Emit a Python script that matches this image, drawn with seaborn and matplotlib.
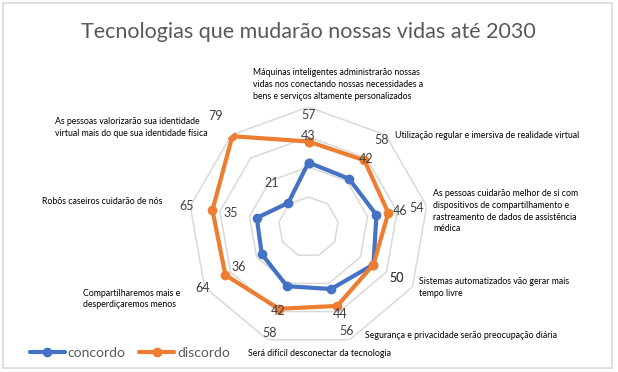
import numpy as np
import pandas as pd
import matplotlib
matplotlib.use("Agg")
import matplotlib.pyplot as plt
import seaborn as sns
from matplotlib.lines import Line2D
from matplotlib.patches import Rectangle

# ---------------- data ----------------
title = "Tecnologias que mudarão nossas vidas até 2030"
categories = [
    ["Máquinas inteligentes administrarão nossas",
     "vidas nos conectando nossas necessidades a",
     "bens e serviços altamente personalizados"],
    ["Utilização regular e imersiva de realidade virtual"],
    ["As pessoas cuidarão melhor de si com",
     "dispositivos de compartilhamento e",
     "rastreamento de dados de assistência",
     "médica"],
    ["Sistemas automatizados vão gerar mais",
     "tempo livre"],
    ["Segurança e privacidade serão preocupação diária"],
    ["Será difícil desconectar da tecnologia"],
    ["Compartilharemos mais e",
     "desperdiçaremos menos"],
    ["Robôs caseiros cuidarão de nós"],
    ["As pessoas valorizarão sua identidade",
     "virtual mais do que sua identidade física"],
]
concordo = [43, 42, 46, 50, 44, 42, 36, 35, 21]
discordo = [57, 58, 54, 50, 56, 58, 64, 65, 79]
series_names = ["concordo", "discordo"]
ring_values = [20, 40, 60, 80]

# ---------------- style ----------------
W, H = 618, 372
BLUE, ORANGE = "#4472C4", "#ED7D31"
GRID = "#D9D9D9"
sns.set_style("white")
plt.rcParams["font.family"] = ["Lato", "DejaVu Sans"]

fig = plt.figure(figsize=(W / 100, H / 100), dpi=100)
fig.patch.set_facecolor("white")

# polar axes: centre (308.5, 227) px, radius 120 px
cx, cy, R = 308.5, 227, 120
ax = fig.add_axes([(cx - R) / W, 1 - (cy + R) / H, 2 * R / W, 2 * R / H],
                  projection="polar")
ax.set_theta_zero_location("N")
ax.set_theta_direction(-1)
ax.patch.set_alpha(0)

n = len(concordo)
angles = np.linspace(0, 2 * np.pi, n, endpoint=False)
closed = np.r_[angles, 2 * np.pi]

# polygon rings
for r in ring_values:
    ax.plot(closed, [r] * len(closed), color=GRID, lw=1.1, zorder=1)

# series
df = pd.concat([
    pd.DataFrame({"theta": closed, "value": np.r_[concordo, concordo[0]],
                  "serie": series_names[0]}),
    pd.DataFrame({"theta": closed, "value": np.r_[discordo, discordo[0]],
                  "serie": series_names[1]}),
])
sns.lineplot(data=df, x="theta", y="value", hue="serie",
             hue_order=series_names, palette=[BLUE, ORANGE],
             sort=False, estimator=None, marker="o", markersize=7,
             markeredgewidth=0, linewidth=3, legend=False, ax=ax, zorder=3)

ax.set_ylim(0, 80)
ax.set_xticks([])
ax.set_yticks([])
ax.grid(False)
ax.spines["polar"].set_visible(False)
ax.set_xlabel("")
ax.set_ylabel("")

# data labels (placed radially outside the point, pushed apart if crowded)
OFF, MIN_GAP = 17.5, 10.8   # in data units (1 unit = 1.5 px)
for a, c, d in zip(angles, concordo, discordo):
    rc, rd = c + OFF, d + OFF
    gap = abs(rd - rc)
    if 0 < gap < MIN_GAP:
        mid = (rc + rd) / 2
        s = np.sign(rd - rc) * MIN_GAP / 2
        rc, rd = mid - s, mid + s
    for r, v in ((rc, c), (rd, d)):
        ax.text(a, r, str(v), ha="center", va="center",
                fontsize=9, color="#404040", clip_on=False, zorder=5)

# category labels: (left x, first line centre y) in pixels
cat_pos = [(253, 72.5), (395, 136), (433, 193.5), (419, 281.5), (365, 335),
           (248, 354), (83, 293), (42, 202), (55, 122)]
for lines, (x, y) in zip(categories, cat_pos):
    for i, line in enumerate(lines):
        fig.text(x / W, 1 - (y + i * 11.8) / H, line, ha="left", va="center",
                 fontsize=6.3, color="#000000")

# title
fig.text(308 / W, 1 - 32 / H, title, ha="center", va="center",
         fontsize=15.5, color="#595959")

# legend
handles = [Line2D([], [], color=c, lw=3, marker="o", markersize=7,
                  markeredgewidth=0) for c in (BLUE, ORANGE)]
fig.legend(handles, series_names, loc="center left",
           bbox_to_anchor=(30 / W, 1 - 353 / H), frameon=False, ncol=2,
           fontsize=10, labelcolor="#595959", handlelength=2.5,
           handletextpad=0.2, columnspacing=1.0, borderpad=0,
           borderaxespad=0)

# chart border
fig.add_artist(Rectangle((3 / W, 4 / H), 609 / W, 365 / H,
                         transform=fig.transFigure, fill=False,
                         edgecolor=GRID, lw=1.2))

fig.savefig("out.png", dpi=100)
